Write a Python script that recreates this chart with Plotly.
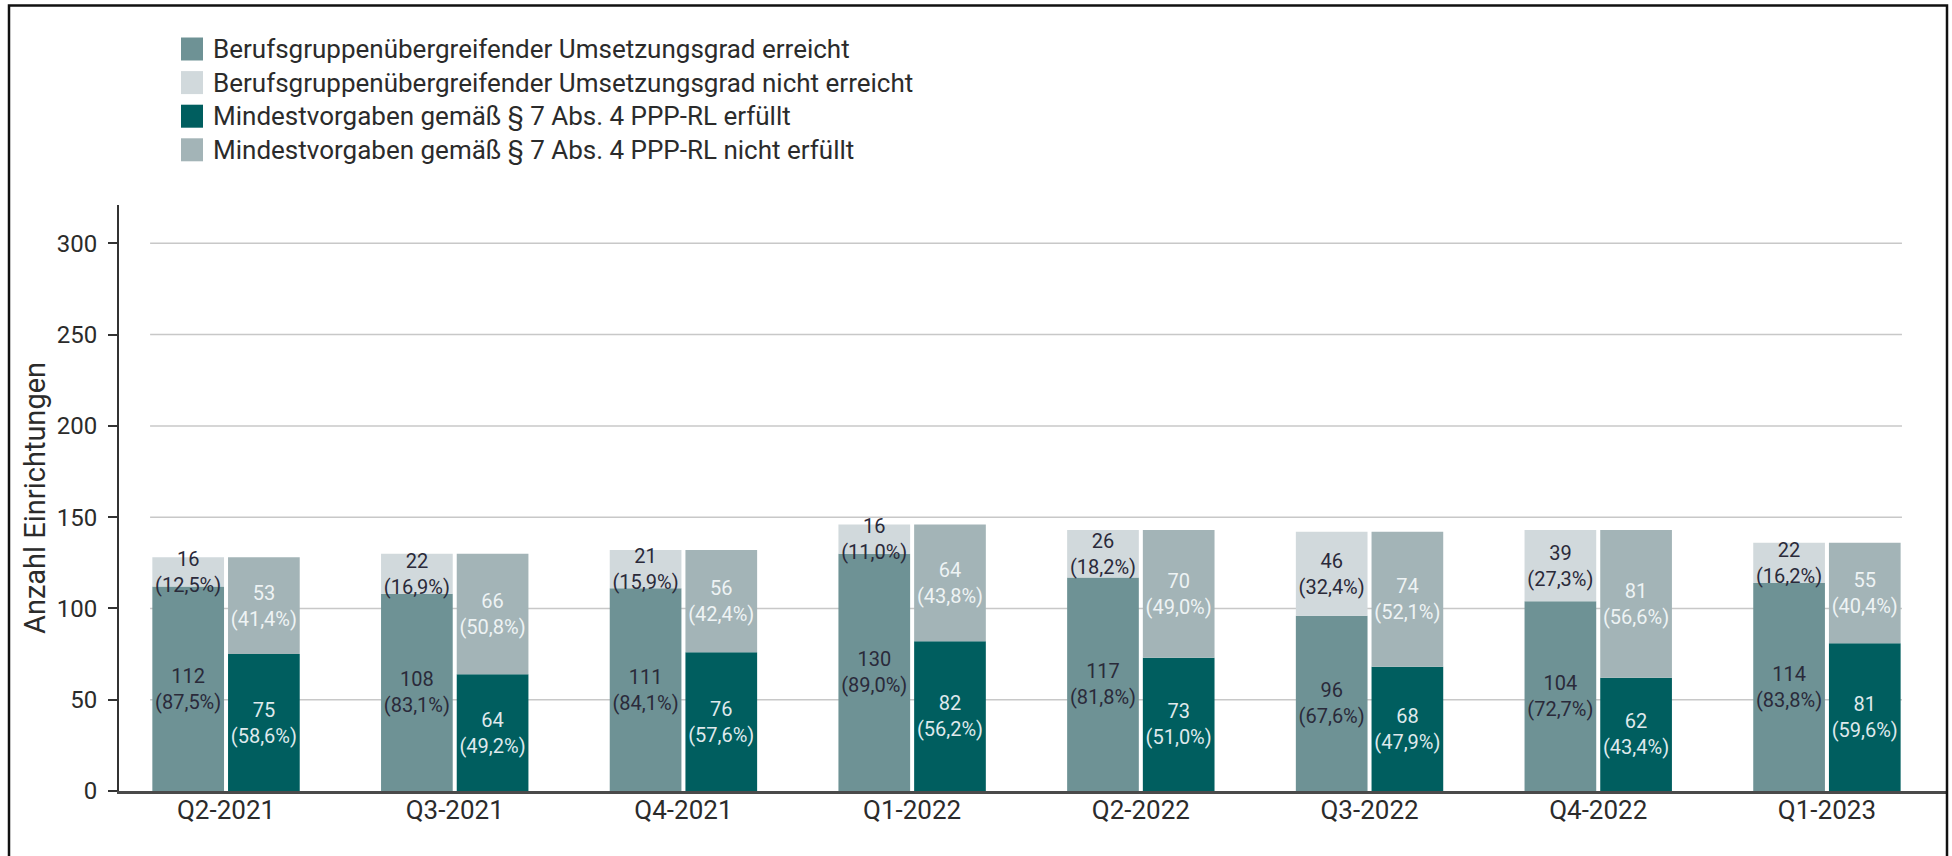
import plotly.graph_objects as go

# ---------------- data ----------------
categories = ["Q2-2021", "Q3-2021", "Q4-2021", "Q1-2022",
              "Q2-2022", "Q3-2022", "Q4-2022", "Q1-2023"]

erreicht = [112, 108, 111, 130, 117, 96, 104, 114]
erreicht_pct = [87.5, 83.1, 84.1, 89.0, 81.8, 67.6, 72.7, 83.8]
nicht_erreicht = [16, 22, 21, 16, 26, 46, 39, 22]
nicht_erreicht_pct = [12.5, 16.9, 15.9, 11.0, 18.2, 32.4, 27.3, 16.2]

erfuellt = [75, 64, 76, 82, 73, 68, 62, 81]
erfuellt_pct = [58.6, 49.2, 57.6, 56.2, 51.0, 47.9, 43.4, 59.6]
nicht_erfuellt = [53, 66, 56, 64, 70, 74, 81, 55]
nicht_erfuellt_pct = [41.4, 50.8, 42.4, 43.8, 49.0, 52.1, 56.6, 40.4]

series_names = [
    "Berufsgruppenübergreifender Umsetzungsgrad erreicht",
    "Berufsgruppenübergreifender Umsetzungsgrad nicht erreicht",
    "Mindestvorgaben gemäß § 7 Abs. 4 PPP-RL erfüllt",
    "Mindestvorgaben gemäß § 7 Abs. 4 PPP-RL nicht erfüllt",
]
y_ticks = [0, 50, 100, 150, 200, 250, 300]
y_title = "Anzahl Einrichtungen"

# ---------------- style ----------------
colors = ["#6e9295", "#d1d9dc", "#005e5f", "#a3b4b7"]
label_colors = ["#2a2a3a", "#2a2a3a", "#dfe9ec", "#eef3f4"]
FONT = "Roboto"
TXT = "#2b2b2b"

W, H = 1952, 856
ML, MR, MT, MB = 119, 5, 205, 65
PW, PH = W - ML - MR, H - MT - MB


def px2x(px):
    return (px - ML) / PW


def px2y(py):
    return (H - MB - py) / PH


def lab(vals, pcts):
    return [f"{v}<br>({p:.1f}%)".replace(".", ",") for v, p in zip(vals, pcts)]


fig = go.Figure()
specs = [
    (erreicht, None, erreicht_pct, "U"),
    (nicht_erreicht, erreicht, nicht_erreicht_pct, "U"),
    (erfuellt, None, erfuellt_pct, "M"),
    (nicht_erfuellt, erfuellt, nicht_erfuellt_pct, "M"),
]
for i, (vals, base, pcts, grp) in enumerate(specs):
    fig.add_trace(go.Bar(
        x=categories, y=vals, base=base, offsetgroup=grp,
        name=series_names[i], showlegend=False,
        marker=dict(color=colors[i], line=dict(width=0)),
        text=lab(vals, pcts), textposition="inside",
        insidetextanchor="middle", textangle=0, constraintext="none",
        textfont=dict(family=FONT, size=20, color=label_colors[i]),
        hoverinfo="skip",
    ))

shapes = []
# horizontal gridlines spanning the bar extent only
for v in y_ticks[1:]:
    shapes.append(dict(type="line", xref="x", yref="y", x0=-0.332, x1=7.328,
                       y0=v, y1=v, line=dict(color="#c8c8c8", width=1.5),
                       layer="below"))
# outer frame (no bottom edge visible)
shapes.append(dict(type="rect", xref="paper", yref="paper",
                   x0=px2x(9), x1=px2x(1947), y0=px2y(900), y1=px2y(5.5),
                   line=dict(color="#111111", width=2.5), layer="above"))

# manual legend
annotations = []
row_centers = [49, 82.6, 116.2, 149.8]
for i, yc in enumerate(row_centers):
    shapes.append(dict(type="rect", xref="paper", yref="paper",
                       x0=px2x(181), x1=px2x(203),
                       y0=px2y(yc + 11.5), y1=px2y(yc - 11.5),
                       fillcolor=colors[i], line=dict(width=0)))
    annotations.append(dict(xref="paper", yref="paper", x=px2x(211), y=px2y(yc),
                            xanchor="left", yanchor="middle", showarrow=False,
                            text=series_names[i],
                            font=dict(family=FONT, size=26, color=TXT)))

# y-axis title
annotations.append(dict(xref="paper", yref="paper", x=px2x(35), y=px2y(498),
                        xanchor="center", yanchor="middle", showarrow=False,
                        textangle=-90, text=y_title,
                        font=dict(family=FONT, size=29, color=TXT)))

fig.update_layout(
    width=W, height=H,
    margin=dict(l=ML, r=MR, t=MT, b=MB),
    paper_bgcolor="white", plot_bgcolor="white",
    barmode="group", bargap=0.338, bargroupgap=0.053,
    font=dict(family=FONT, color=TXT),
    shapes=shapes, annotations=annotations,
    showlegend=False,
    xaxis=dict(type="category", range=[-0.468, 7.525], showgrid=False,
               automargin=False,
               showline=True, linecolor="#4a4a4a", linewidth=2.5,
               ticks="", tickfont=dict(family=FONT, size=26, color=TXT),
               ticklabelstandoff=-6, zeroline=False),
    yaxis=dict(range=[0, 321], tickvals=y_ticks, showgrid=False,
               automargin=False,
               showline=True, linecolor="#333333", linewidth=2,
               ticks="outside", ticklen=9, tickwidth=2, tickcolor="#333333",
               tickfont=dict(family=FONT, size=24, color=TXT),
               ticklabelstandoff=6, zeroline=False),
)

fig.write_html("out.html",
               config={"displayModeBar": False},
               post_script="document.body.style.margin='0';"
                           "document.body.style.overflow='hidden';")
